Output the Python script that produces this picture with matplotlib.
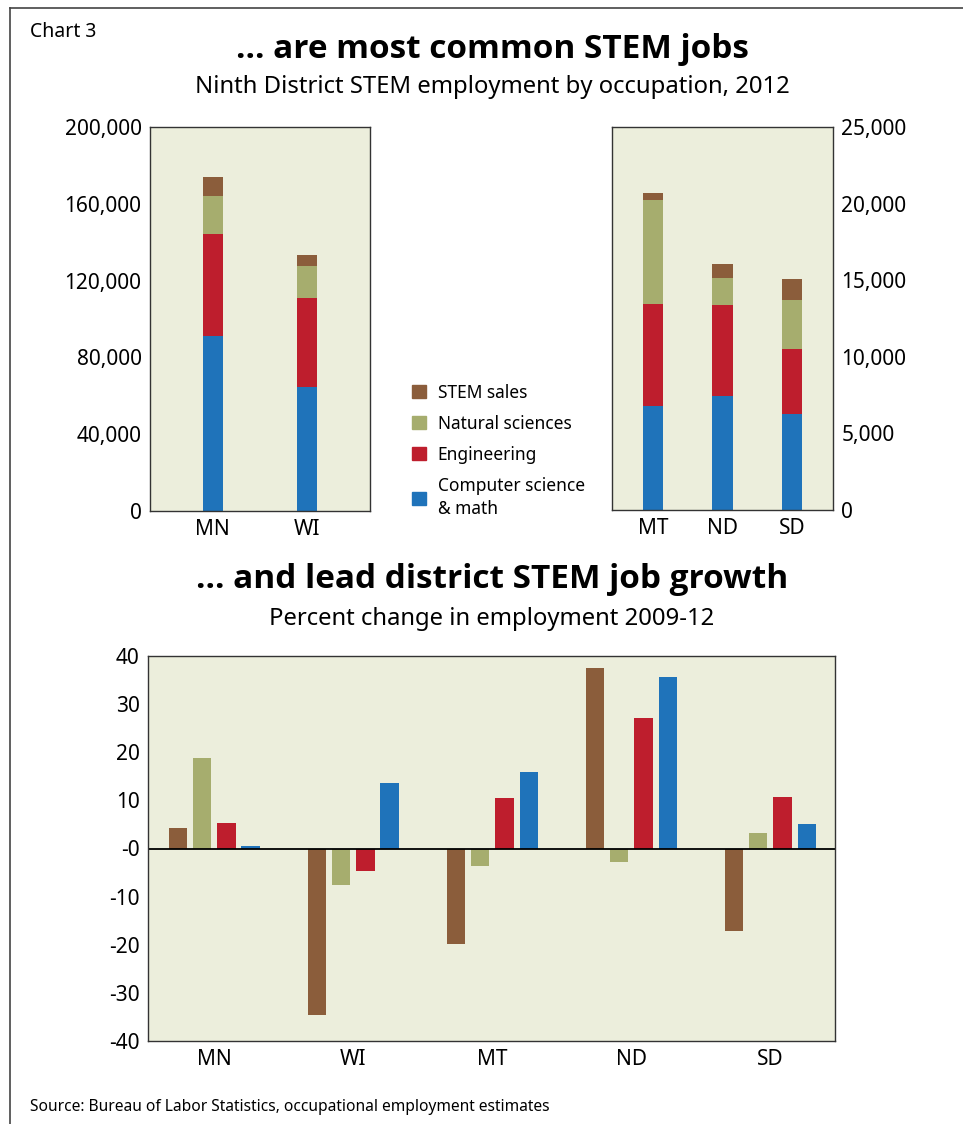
import matplotlib
matplotlib.use("Agg")
import matplotlib.pyplot as plt
from matplotlib.patches import Patch
import numpy as np

plt.rcParams['font.family'] = ['Noto Sans', 'DejaVu Sans']
TITLE_FONT = ['Open Sans', 'Lato', 'DejaVu Sans']

# ---- data ----
occupations = ['STEM sales', 'Natural sciences', 'Engineering', 'Computer science\n& math']
colors = ['#8B5D3B', '#A6AD6E', '#BE1E2D', '#1F73BA']

big_states = ['MN', 'WI']
big_cs = [91000, 64600]
big_eng = [53200, 46100]
big_nat = [20100, 16700]
big_sales = [9400, 5700]

small_states = ['MT', 'ND', 'SD']
small_cs = [6800, 7430, 6250]
small_eng = [6650, 5930, 4230]
small_nat = [6780, 1770, 3210]
small_sales = [460, 910, 1370]

growth_states = ['MN', 'WI', 'MT', 'ND', 'SD']
growth_sales = [4.3, -34.6, -19.9, 37.5, -17.2]
growth_nat = [18.9, -7.5, -3.7, -2.8, 3.2]
growth_eng = [5.4, -4.6, 10.4, 27.2, 10.8]
growth_cs = [0.5, 13.7, 15.8, 35.7, 5.0]

BG = '#ECEEDC'
W, H = 963, 1124


def px_axes(x0, y0, x1, y1):
    return fig.add_axes([x0 / W, 1 - y1 / H, (x1 - x0) / W, (y1 - y0) / H])


def style(ax):
    ax.set_facecolor(BG)
    for s in ax.spines.values():
        s.set_color('#333333')
        s.set_linewidth(1.0)
    ax.tick_params(length=0, labelsize=15, pad=6)


def stacked(ax, names, parts, width):
    x = np.arange(len(names))
    bottom = np.zeros(len(names))
    for vals, c in zip(parts, colors[::-1]):
        ax.bar(x, vals, width, bottom=bottom, color=c, linewidth=0)
        bottom += np.array(vals)
    ax.set_xticks(x)
    ax.set_xticklabels(names)


fig = plt.figure(figsize=(W / 100, H / 100), dpi=100)

# outer frame (top and left edges)
fig.add_artist(plt.Line2D([10 / W, 10 / W], [0, 1 - 8 / H], color='#444444', lw=1.2))
fig.add_artist(plt.Line2D([10 / W, 1], [1 - 8 / H, 1 - 8 / H], color='#444444', lw=1.2))

fig.text(30 / W, 1 - 32 / H, 'Chart 3', fontsize=14, va='center')
fig.text(492 / W, 1 - 50 / H, '... are most common STEM jobs', fontsize=24,
         fontweight='bold', family=TITLE_FONT, ha='center', va='center')
fig.text(492 / W, 1 - 87 / H, 'Ninth District STEM employment by occupation, 2012',
         fontsize=17.2, ha='center', va='center')

# --- left stacked panel ---
ax1 = px_axes(150, 127, 370, 511)
style(ax1)
stacked(ax1, big_states, [big_cs, big_eng, big_nat, big_sales], 0.21)
ax1.set_xlim(-0.66, 1.66)
ax1.set_ylim(0, 200000)
ax1.set_yticks(np.arange(0, 200001, 40000))
ax1.set_yticklabels([f'{v:,}' for v in range(0, 200001, 40000)])

# --- right stacked panel ---
ax2 = px_axes(612, 127, 833, 510)
style(ax2)
stacked(ax2, small_states, [small_cs, small_eng, small_nat, small_sales], 0.29)
ax2.set_xlim(-0.585, 2.585)
ax2.set_ylim(0, 25000)
ax2.yaxis.tick_right()
ax2.set_yticks(np.arange(0, 25001, 5000))
ax2.set_yticklabels([f'{v:,}' for v in range(0, 25001, 5000)])

handles = [Patch(color=c) for c in colors]
leg = fig.legend(handles, occupations, loc='upper left', bbox_to_anchor=(396 / W, 1 - 368 / H),
                 frameon=False, fontsize=12.5, handlelength=0.8, handleheight=0.8,
                 handletextpad=0.7, labelspacing=0.75)
leg.get_texts()[3].set_linespacing(1.4)

# --- growth panel ---
fig.text(492 / W, 1 - 580 / H, '... and lead district STEM job growth', fontsize=24,
         fontweight='bold', family=TITLE_FONT, ha='center', va='center')
fig.text(492 / W, 1 - 619 / H, 'Percent change in employment 2009-12',
         fontsize=17.2, ha='center', va='center')

ax3 = px_axes(148, 656, 835, 1041)
style(ax3)
xg = np.arange(len(growth_states))
bw, step = 0.131, 0.174
for i, (vals, c) in enumerate(zip([growth_sales, growth_nat, growth_eng, growth_cs], colors)):
    ax3.bar(xg + (i - 1.5) * step, vals, bw, color=c, linewidth=0)
ax3.axhline(0, color='black', lw=1.3)
ax3.set_xlim(-0.477, 4.465)
ax3.set_ylim(-40, 40)
ticks = np.arange(-40, 41, 10)
ax3.set_yticks(ticks)
ax3.set_yticklabels(['-0' if t == 0 else str(t) for t in ticks])
ax3.set_xticks(xg)
ax3.set_xticklabels(growth_states)

fig.text(30 / W, 1 - 1107 / H, 'Source: Bureau of Labor Statistics, occupational employment estimates',
         fontsize=11.2, va='center')

fig.savefig('out.png', dpi=100)
